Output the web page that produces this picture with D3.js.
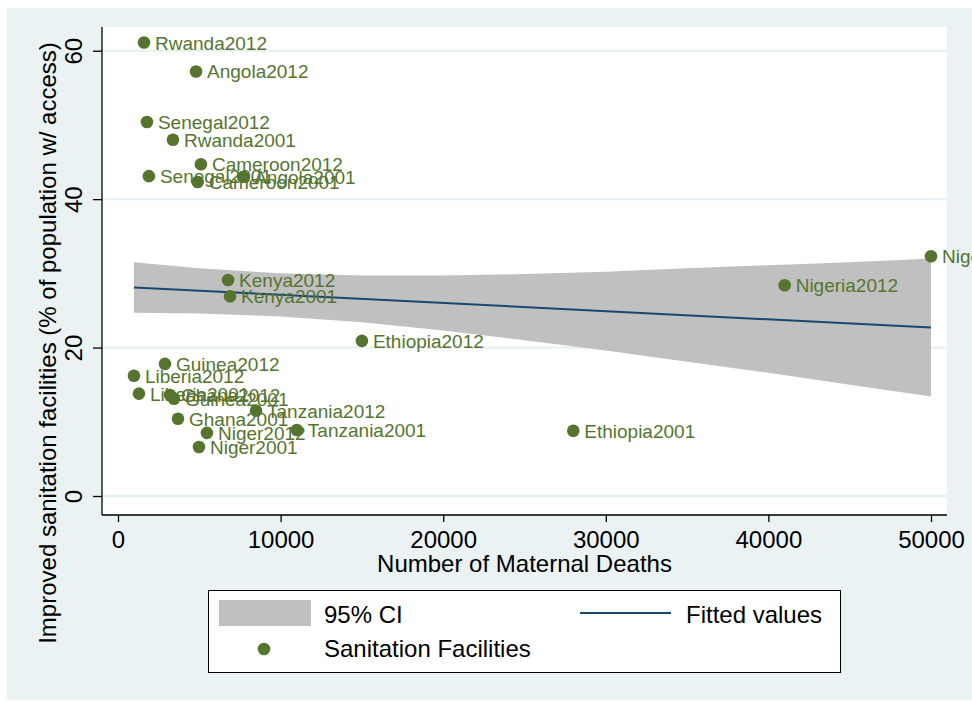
<!DOCTYPE html>
<html>
<head>
<meta charset="utf-8">
<script src="https://cdn.jsdelivr.net/npm/d3@7"></script>
<style>
  body { margin: 0; background: #fff; }
  svg { display: block; font-family: "Liberation Sans", Arial, sans-serif; }
</style>
</head>
<body>
<svg id="chart"></svg>
<script>
const width = 972;
const height = 702;

// data
const countries = ["Rwanda2012", "Angola2012", "Senegal2012", "Rwanda2001", "Cameroon2012",
  "Senegal2001", "Angola2001", "Cameroon2001", "Kenya2012", "Kenya2001", "Nigeria2001",
  "Nigeria2012", "Ethiopia2012", "Guinea2012", "Liberia2012", "Liberia2001", "Ghana2012",
  "Guinea2001", "Tanzania2012", "Ghana2001", "Niger2012", "Tanzania2001", "Niger2001", "Ethiopia2001"];
const deaths = [1600, 4800, 1780, 3380, 5100, 1900, 7700, 4900, 6770, 6890, 50000,
  41000, 15000, 2890, 980, 1290, 3200, 3440, 8490, 3690, 5470, 11000, 4980, 28000];
const sanitation = [61.1, 57.2, 50.4, 48.0, 44.7, 43.1, 43.0, 42.3, 29.1, 26.9, 32.3,
  28.4, 20.9, 17.8, 16.2, 13.8, 13.6, 13.1, 11.5, 10.4, 8.5, 8.9, 6.6, 8.8];

// fitted line and 95% CI band
const fitX = [980, 50000];
const fitY = [28.1, 22.7];
const ciX = [980, 5000, 10000, 15000, 20000, 25000, 30000, 35000, 40000, 45000, 50000];
const ciLow = [24.7, 24.6, 24.2, 23.4, 22.3, 21.0, 19.6, 18.1, 16.6, 15.0, 13.4];
const ciHigh = [31.5, 30.7, 30.0, 29.7, 29.7, 29.9, 30.2, 30.7, 31.1, 31.5, 32.0];

const xTicks = [0, 10000, 20000, 30000, 40000, 50000];
const yTicks = [0, 20, 40, 60];

const green = "#55752f";
const navy = "#1a476f";

const plot = {left: 102, right: 947, top: 27, bottom: 515};

const svg = d3.select("#chart")
  .attr("width", width)
  .attr("height", height);

// graph region background
svg.append("rect")
  .attr("x", 7).attr("y", 8)
  .attr("width", width - 7).attr("height", 692)
  .attr("fill", "#eaf2f3");

// plot region
svg.append("rect")
  .attr("x", plot.left).attr("y", plot.top)
  .attr("width", plot.right - plot.left).attr("height", plot.bottom - plot.top)
  .attr("fill", "#fff");

const x = d3.scaleLinear().domain([0, 50000]).range([118, 931]);
const y = d3.scaleLinear().domain([0, 60]).range([496, 50.7]);

// gridlines
svg.append("g")
  .selectAll("line")
  .data(yTicks)
  .enter()
  .append("line")
  .attr("x1", plot.left).attr("x2", plot.right)
  .attr("y1", d => y(d)).attr("y2", d => y(d))
  .attr("stroke", "#e6eff1")
  .attr("stroke-width", 2);

// CI band
const ciData = ciX.map((d, i) => ({x: d, lo: ciLow[i], hi: ciHigh[i]}));
svg.append("path")
  .datum(ciData)
  .attr("fill", "#c0c0c0")
  .attr("d", d3.area().x(d => x(d.x)).y0(d => y(d.lo)).y1(d => y(d.hi)));

// fitted line
svg.append("path")
  .datum(fitX.map((d, i) => [d, fitY[i]]))
  .attr("fill", "none")
  .attr("stroke", navy)
  .attr("stroke-width", 2)
  .attr("d", d3.line().x(d => x(d[0])).y(d => y(d[1])));

// points
const pts = countries.map((c, i) => ({name: c, x: deaths[i], y: sanitation[i]}));

svg.append("g")
  .selectAll("circle")
  .data(pts)
  .enter()
  .append("circle")
  .attr("cx", d => x(d.x))
  .attr("cy", d => y(d.y))
  .attr("r", 6.3)
  .attr("fill", green);

svg.append("g")
  .selectAll("text")
  .data(pts)
  .enter()
  .append("text")
  .attr("x", d => x(d.x) + 11)
  .attr("y", d => y(d.y) + 7)
  .attr("font-size", "19px")
  .attr("fill", green)
  .text(d => d.name);

// x axis
const xAxis = svg.append("g")
  .attr("transform", `translate(0,${plot.bottom})`)
  .call(d3.axisBottom(x).tickValues(xTicks).tickFormat(d3.format("d")).tickSize(7).tickSizeOuter(0).tickPadding(9));
xAxis.select(".domain").remove();
xAxis.selectAll(".tick line").attr("stroke", "#000").attr("stroke-width", 1.3);
xAxis.selectAll(".tick text")
  .attr("font-size", "24px")
  .attr("font-family", "Liberation Sans, Arial, sans-serif")
  .attr("fill", "#000");

svg.append("line")
  .attr("x1", plot.left).attr("x2", plot.right)
  .attr("y1", plot.bottom).attr("y2", plot.bottom)
  .attr("stroke", "#000").attr("stroke-width", 1.3);

svg.append("text")
  .attr("x", (plot.left + plot.right) / 2)
  .attr("y", 572)
  .attr("text-anchor", "middle")
  .attr("font-size", "24px")
  .text("Number of Maternal Deaths");

// y axis
const yAxis = svg.append("g")
  .attr("transform", `translate(${plot.left},0)`)
  .call(d3.axisLeft(y).tickValues(yTicks).tickSize(9).tickSizeOuter(0));
yAxis.select(".domain").remove();
yAxis.selectAll(".tick line").attr("stroke", "#000").attr("stroke-width", 1.3);
yAxis.selectAll(".tick text")
  .attr("font-size", "24px")
  .attr("font-family", "Liberation Sans, Arial, sans-serif")
  .attr("fill", "#000")
  .attr("text-anchor", "middle")
  .attr("dy", 0)
  .attr("x", 0)
  .attr("transform", "translate(-20,0) rotate(-90)");

svg.append("line")
  .attr("x1", plot.left).attr("x2", plot.left)
  .attr("y1", plot.top).attr("y2", plot.bottom)
  .attr("stroke", "#000").attr("stroke-width", 1.3);

svg.append("text")
  .attr("transform", "translate(56,343) rotate(-90)")
  .attr("text-anchor", "middle")
  .attr("font-size", "24px")
  .text("Improved sanitation facilities (% of population w/ access)");

// legend
const legend = svg.append("g");

legend.append("rect")
  .attr("x", 208.5).attr("y", 590.5)
  .attr("width", 632).attr("height", 82)
  .attr("fill", "#fff")
  .attr("stroke", "#000")
  .attr("stroke-width", 1);

legend.append("rect")
  .attr("x", 219).attr("y", 600)
  .attr("width", 92).attr("height", 26)
  .attr("fill", "#c0c0c0");

legend.append("text")
  .attr("x", 324).attr("y", 623)
  .attr("font-size", "24px")
  .text("95% CI");

legend.append("line")
  .attr("x1", 580).attr("x2", 671)
  .attr("y1", 613).attr("y2", 613)
  .attr("stroke", navy).attr("stroke-width", 2);

legend.append("text")
  .attr("x", 686).attr("y", 623)
  .attr("font-size", "24px")
  .text("Fitted values");

legend.append("circle")
  .attr("cx", 264).attr("cy", 649)
  .attr("r", 6.3)
  .attr("fill", green);

legend.append("text")
  .attr("x", 324).attr("y", 657)
  .attr("font-size", "24px")
  .text("Sanitation Facilities");
</script>
</body>
</html>
